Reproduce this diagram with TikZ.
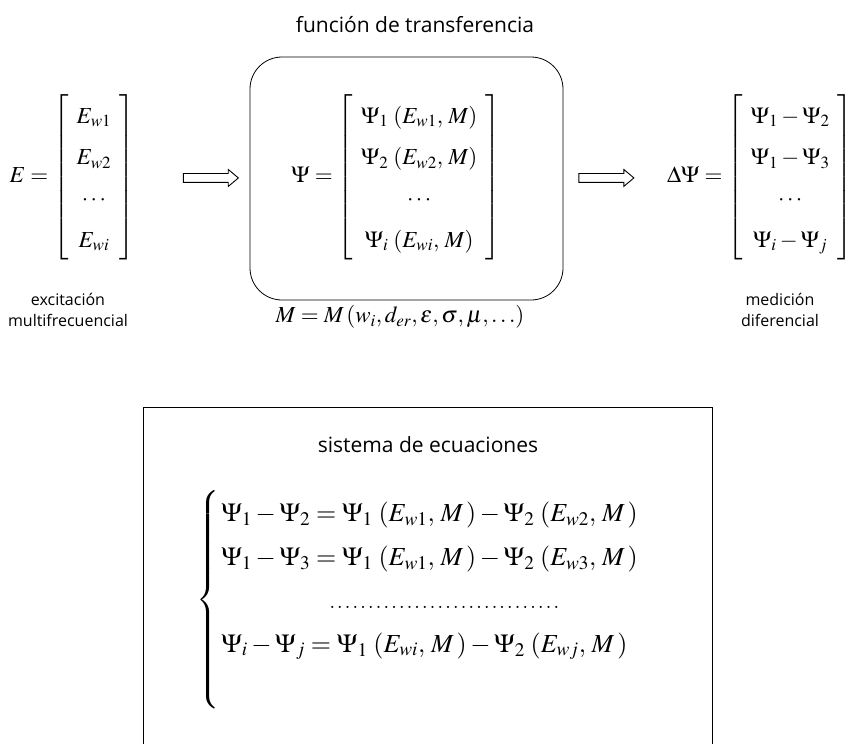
\documentclass[tikz,border=0pt]{standalone}
\usepackage{amsmath}
\usepackage{mathptmx}
\usepackage[no-math]{fontspec}
\newfontfamily\labelfont{Open Sans}
\usetikzlibrary{shapes.arrows}

\newcommand{\dotrow}{\hbox to 232pt{\xleaders\hbox to 7.5pt{\hss.\hss}\hfill}}

\begin{document}
\begin{tikzpicture}[x=1pt,y=1pt,font=\fontsize{23}{27.6}\selectfont,mathlbl/.style={inner sep=0pt},caption/.style={font=\labelfont\fontsize{21}{25}\selectfont},sidelbl/.style={font=\labelfont\fontsize{16}{21}\selectfont,align=center},tfbox/.style={draw,line width=0.8pt,rounded corners=32pt,minimum width=313pt,minimum height=243pt},fatarrow/.style={draw,line width=0.9pt,single arrow,single arrow head extend=4pt,single arrow tip angle=80,minimum height=55pt,inner xsep=0pt,inner ysep=4pt},sysbox/.style={line width=0.8pt}]
\useasboundingbox (0,0) rectangle (852,-744);
\renewcommand{\arraystretch}{1.5}\setlength{\arraycolsep}{8pt}
% top row: excitation -> transfer function -> differential measurement
\node[caption] (tftitle) at (415,-25) {función de transferencia};
\node[tfbox] (tfbox) at (406.5,-178.5) {};
\node[mathlbl] (Emat) at (72,-177) {$E=\left[\begin{array}{c}E_{w1}\\E_{w2}\\\cdots\\E_{wi}\end{array}\right]$};
\node[mathlbl] (Psimat) at (396,-177) {$\Psi=\left[\begin{array}{c}\Psi_1\,\left(E_{w1},\,M\right)\\\Psi_2\,\left(E_{w2},\,M\right)\\\cdots\\\Psi_i\,\left(E_{wi},\,M\right)\end{array}\right]$};
\node[mathlbl] (Dmat) at (760,-177) {$\Delta\Psi=\left[\begin{array}{c}\Psi_1-\Psi_2\\\Psi_1-\Psi_3\\\cdots\\\Psi_i-\Psi_j\end{array}\right]$};
\path (Emat.east) -- node[fatarrow,pos=0.64] (arrA) {} (tfbox.west);
\path (tfbox.east) -- node[fatarrow,pos=0.39] (arrB) {} (Dmat.west);
\node[sidelbl] (excit) at (68,-310) {excitación\\multifrecuencial};
\node[mathlbl] (Mdef) at (400,-317) {$M=M\left(w_i,d_{er},\varepsilon,\sigma,\mu,\ldots\right)$};
\node[sidelbl] (medic) at (780,-310) {medición\\diferencial};
% bottom: system of equations (box open at the bottom)
\draw[sysbox] (143,-744) -- (143,-407) -- (712,-407) -- (712,-744);
\node[caption] (systitle) at (428,-445) {sistema de ecuaciones};
\node[mathlbl,anchor=west,font=\fontsize{26}{31}\selectfont] (eqsys) at (196,-600) {\renewcommand{\arraystretch}{1.4}\setlength{\arraycolsep}{2pt}$\left\{\begin{array}{l}\Psi_1-\Psi_2=\Psi_1\,\left(E_{w1},\,M\,\right)-\Psi_2\,\left(E_{w2},\,M\,\right)\\\Psi_1-\Psi_3=\Psi_1\,\left(E_{w1},\,M\,\right)-\Psi_2\,\left(E_{w3},\,M\,\right)\\\hspace*{107pt}\dotrow\\\Psi_i-\Psi_j=\Psi_1\,\left(E_{wi},\,M\,\right)-\Psi_2\,\left(E_{wj},\,M\,\right)\\\mbox{}\end{array}\right.$};
\end{tikzpicture}
\end{document}
